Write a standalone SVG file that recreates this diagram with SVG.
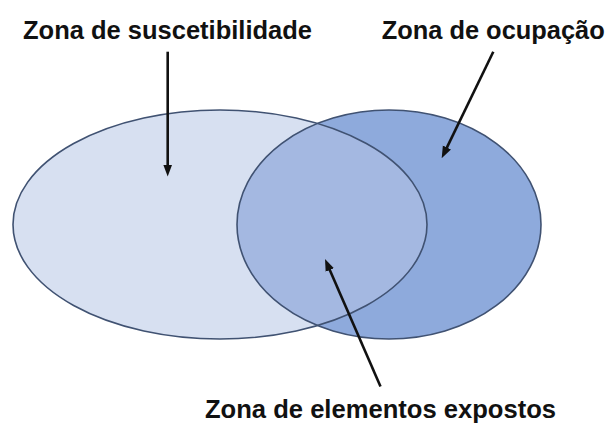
<svg xmlns="http://www.w3.org/2000/svg" width="608" height="423" viewBox="0 0 608 423">
<style>
.lbl{font-family:"Liberation Sans",Arial,sans-serif;font-weight:bold;font-size:25.5px;fill:#111111}
.edge{fill:none;stroke:#405272;stroke-width:1.6}
.arr{stroke:#111111;stroke-width:2.6;fill:none;marker-end:url(#ah)}
</style>
<defs>
<marker id="ah" viewBox="0 0 12 10" refX="6" refY="5" markerWidth="12" markerHeight="10" markerUnits="userSpaceOnUse" orient="auto">
<path d="M0,0.5 L12,5 L0,9.5 z" fill="#111111"/>
</marker>
<clipPath id="leftClip"><ellipse cx="220" cy="224.5" rx="207" ry="114.5"/></clipPath>
</defs>
<rect width="608" height="423" fill="#ffffff"/>
<g id="zona-suscetibilidade">
<ellipse cx="220" cy="224.5" rx="207" ry="114.5" fill="#d7e0f1"/>
</g>
<g id="zona-ocupacao">
<ellipse cx="389" cy="224.5" rx="152" ry="114.5" fill="#8eaadc"/>
</g>
<g id="zona-elementos-expostos">
<ellipse cx="389" cy="224.5" rx="152" ry="114.5" fill="#a4b8e1" clip-path="url(#leftClip)"/>
</g>
<g id="outlines">
<ellipse class="edge" cx="220" cy="224.5" rx="207" ry="114.5"/>
<ellipse class="edge" cx="389" cy="224.5" rx="152" ry="114.5"/>
</g>
<g id="connectors">
<line class="arr" x1="167.7" y1="51.7" x2="167.7" y2="170.5"/>
<line class="arr" x1="493.3" y1="51.7" x2="444.3" y2="152.9"/>
<line class="arr" x1="380.5" y1="386.5" x2="327.4" y2="264.5"/>
</g>
<g id="label-suscetibilidade"><text class="lbl" x="23" y="39.3" textLength="289" lengthAdjust="spacingAndGlyphs">Zona de suscetibilidade</text></g>
<g id="label-ocupacao"><text class="lbl" x="381.7" y="39.3" textLength="223" lengthAdjust="spacingAndGlyphs">Zona de ocupação</text></g>
<g id="label-elementos"><text class="lbl" x="205" y="418" textLength="351" lengthAdjust="spacingAndGlyphs">Zona de elementos expostos</text></g>
</svg>
